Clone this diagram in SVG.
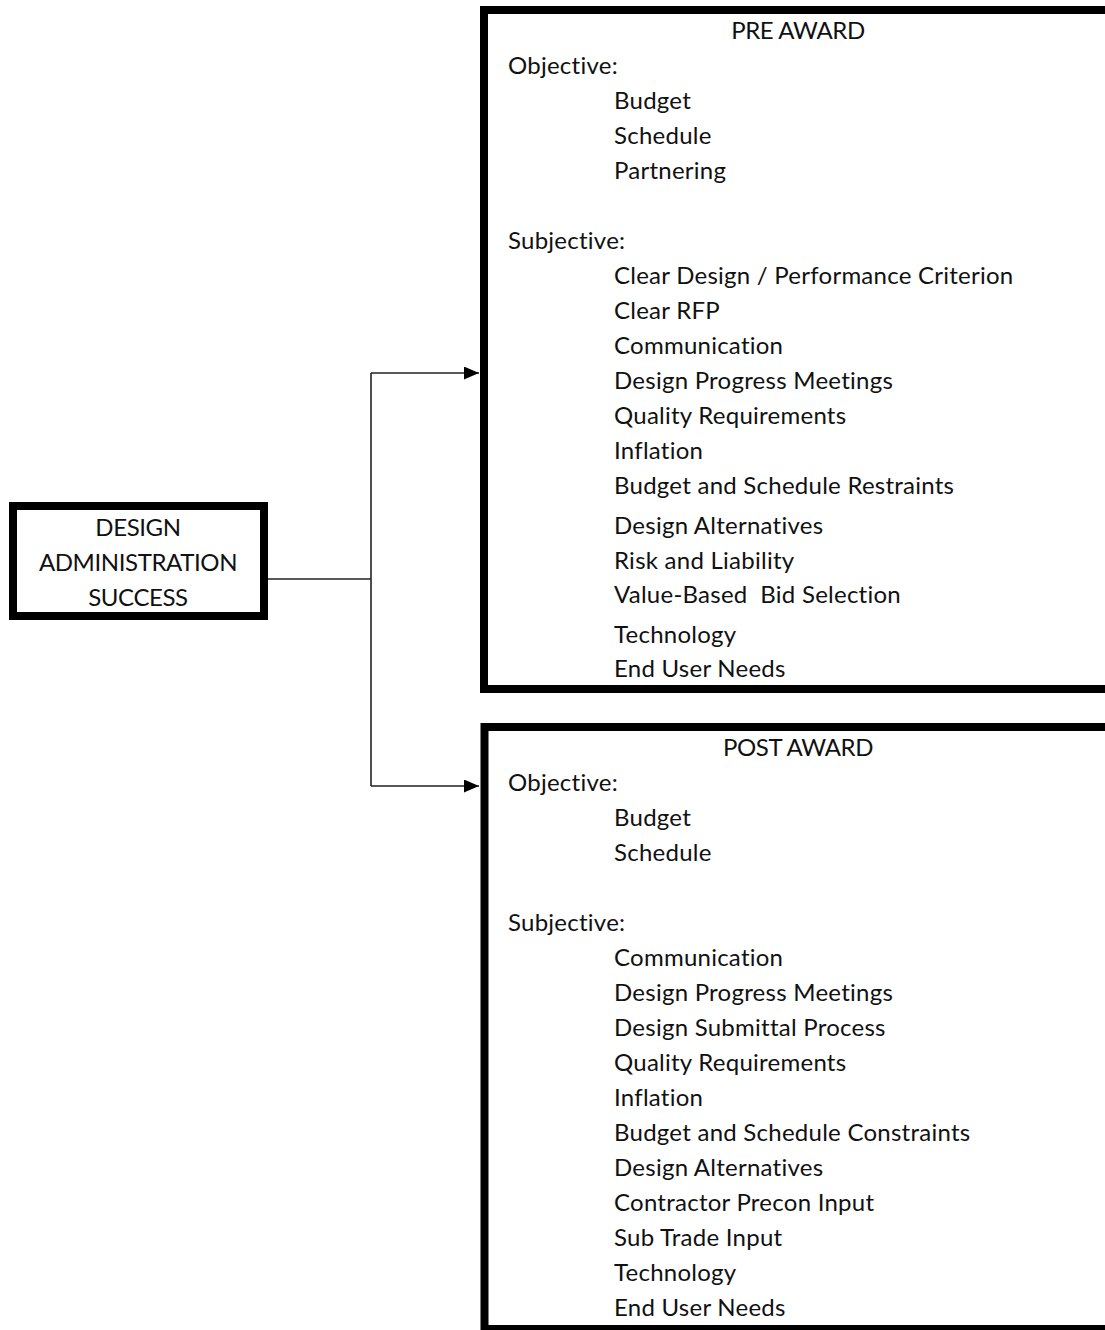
<svg xmlns="http://www.w3.org/2000/svg" width="1105" height="1330" viewBox="0 0 1105 1330">
<style>
.box{fill:#fff;stroke:#000;stroke-width:8}
.t{font-family:Lato,"Liberation Sans",sans-serif;font-size:24px;fill:#111;font-variant-ligatures:none;letter-spacing:0.25px}
.c{text-anchor:middle;letter-spacing:-0.4px}
.conn{fill:none;stroke:#222;stroke-width:1.6}
</style>
<defs>
<marker id="arr" markerUnits="userSpaceOnUse" markerWidth="15" markerHeight="13" refX="15" refY="6.5" orient="auto">
<path d="M0,0 L15,6.5 L0,13 Z" fill="#000"/>
</marker>
</defs>
<rect width="1105" height="1330" fill="#fff"/>
<g id="connectors">
<path class="conn" d="M268,579 H371"/>
<path class="conn" d="M371,373 V786"/>
<path class="conn" d="M371,373 H479" marker-end="url(#arr)"/>
<path class="conn" d="M371,786 H479" marker-end="url(#arr)"/>
</g>
<g id="design-admin-success">
<rect class="box" x="13" y="506" width="251" height="110"/>
<text class="t c" x="138" y="536">DESIGN</text>
<text class="t c" x="138" y="571">ADMINISTRATION</text>
<text class="t c" x="138" y="606">SUCCESS</text>
</g>
<g id="pre-award">
<rect class="box" x="484" y="10" width="700" height="679"/>
<text class="t c" x="798" y="39">PRE AWARD</text>
<text class="t" x="508" y="74">Objective:</text>
<text class="t" x="614" y="109">Budget</text>
<text class="t" x="614" y="144">Schedule</text>
<text class="t" x="614" y="179">Partnering</text>
<text class="t" x="508" y="249">Subjective:</text>
<text class="t" x="614" y="284">Clear Design / Performance Criterion</text>
<text class="t" x="614" y="319">Clear RFP</text>
<text class="t" x="614" y="354">Communication</text>
<text class="t" x="614" y="389">Design Progress Meetings</text>
<text class="t" x="614" y="424">Quality Requirements</text>
<text class="t" x="614" y="459">Inflation</text>
<text class="t" x="614" y="494">Budget and Schedule Restraints</text>
<text class="t" x="614" y="534">Design Alternatives</text>
<text class="t" x="614" y="569">Risk and Liability</text>
<text class="t" x="614" y="603" xml:space="preserve">Value-Based  Bid Selection</text>
<text class="t" x="614" y="643">Technology</text>
<text class="t" x="614" y="677">End User Needs</text>
</g>
<g id="post-award">
<rect class="box" x="484.5" y="727" width="700" height="602"/>
<text class="t c" x="798" y="756">POST AWARD</text>
<text class="t" x="508" y="791">Objective:</text>
<text class="t" x="614" y="826">Budget</text>
<text class="t" x="614" y="861">Schedule</text>
<text class="t" x="508" y="931">Subjective:</text>
<text class="t" x="614" y="966">Communication</text>
<text class="t" x="614" y="1001">Design Progress Meetings</text>
<text class="t" x="614" y="1036">Design Submittal Process</text>
<text class="t" x="614" y="1071">Quality Requirements</text>
<text class="t" x="614" y="1106">Inflation</text>
<text class="t" x="614" y="1141">Budget and Schedule Constraints</text>
<text class="t" x="614" y="1176">Design Alternatives</text>
<text class="t" x="614" y="1211">Contractor Precon Input</text>
<text class="t" x="614" y="1246">Sub Trade Input</text>
<text class="t" x="614" y="1281">Technology</text>
<text class="t" x="614" y="1316">End User Needs</text>
</g>
</svg>
